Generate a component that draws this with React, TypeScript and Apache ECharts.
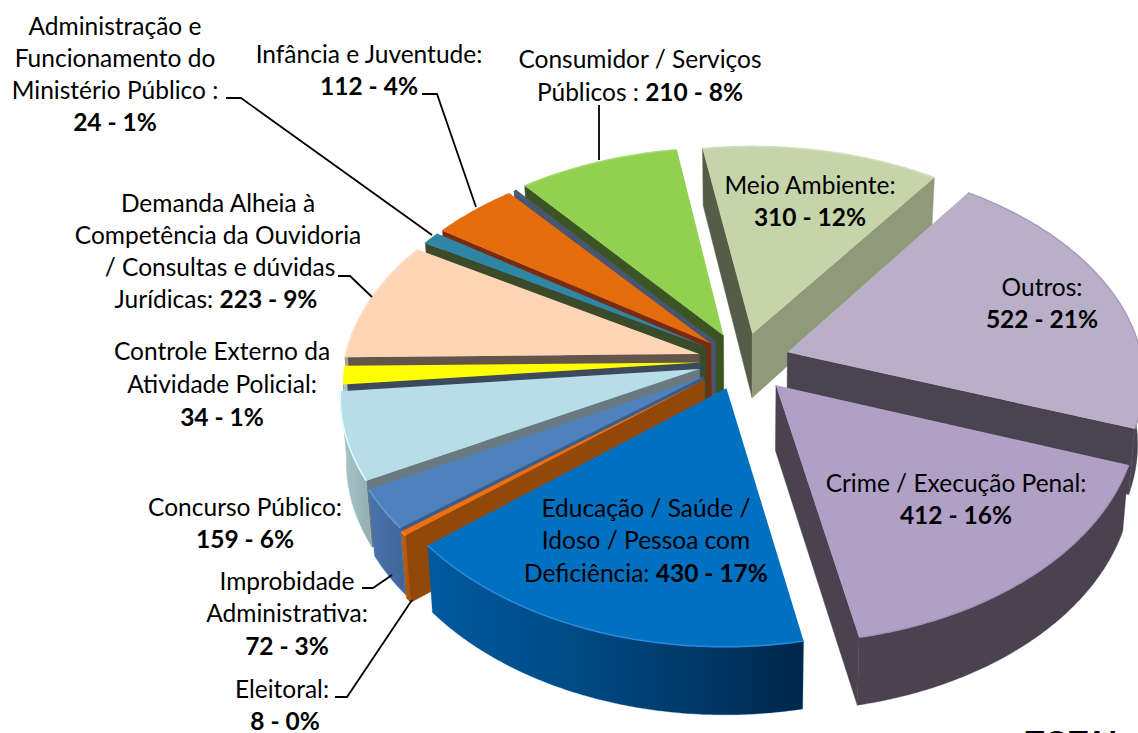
import React, { useEffect, useRef } from "react";
import * as echarts from "echarts";

// Slices, clockwise from the top ("" = thin unlabelled sliver seen beside Infância)
const categories = [
  "Meio Ambiente", "Outros", "Crime / Execução Penal", "Educação / Saúde / Idoso / Pessoa com Deficiência",
  "Eleitoral", "Improbidade Administrativa", "Concurso Público", "Controle Externo da Atividade Policial",
  "Demanda Alheia à Competência da Ouvidoria / Consultas e dúvidas Jurídicas",
  "Administração e Funcionamento do Ministério Público", "Infância e Juventude", "", "Consumidor / Serviços Públicos",
];
const values = [310, 522, 412, 430, 8, 72, 159, 34, 223, 24, 112, 4, 210];
const percents = [12, 21, 16, 17, 0, 3, 6, 1, 9, 1, 4, 0, 8];

const topColors = ["#c5d5a9", "#b9afc9", "#b0a0c6", "#0070c0", "#ee7011", "#4f81bd", "#b7dee8", "#ffff00", "#fcd5b5", "#2e86a4", "#e46c0a", "#4a5570", "#92d050"];
const radialColors = ["#565c48", "#4a4450", "#4a4250", "#00508f", "#924808", "#3a5e8c", "#687a80", "#3d4a5c", "#64554a", "#3b4a28", "#7a2a10", "#4a5570", "#3c5424"];
const rightWallColors = ["#90997a", "#4a4450", "#4a4250", "#00508f", "#924808", "#3a5e8c", "#687a80", "#3d4a5c", "#64554a", "#3b4a28", "#7a2a10", "#4a5570", "#3c5424"];
const arcColors: string[][] = [
  ["#90997a", "#90997a"], ["#4a4450", "#4a4450"], ["#4a4250", "#4a4250"],
  ["#005a9e", "#004d8a", "#003c6c", "#00264a"], ["#c4610c", "#a85208"], ["#4a74ac", "#3f669c"],
  ["#a9c6cc", "#93adb2"], ["#a9c6cc", "#a9c6cc"], ["#c0a288", "#c0a288"], ["#236a82", "#236a82"],
  ["#ad5208", "#ad5208"], ["#4a5570", "#4a5570"], ["#6f9e3c", "#6f9e3c"],
];
const edgeColors = ["#d4e0bc", "#a89cbc", "#a394b6", "#2a8ade", "#f08a30", "#6a9ad0", "#dcffff", "#ffff00", "#ffe0c8", "#2e86a4", "#e46c0a", "#4a5570", "#a4dc68"];

const explodes = [0.13, 0.135, 0.145, 0.13, 0.135, 0.13, 0.125, 0.115, 0.125, 0.12, 0.12, 0.12, 0.13];

const START_ANGLE = -9;
const CX = 742, CY = 361, RX = 355, RY = 218, K = 0.128, K_FRONT_X = 0.11;
const TAU = Math.PI / 180;

const total = values.reduce((a, b) => a + b, 0);
const starts = values.map((_, i) => values.slice(0, i).reduce((a, b) => a + b, 0));
const dataOrder = values
  .map((v, i) => ({ i, depth: Math.cos((START_ANGLE + ((starts[i] + v / 2) / total) * 360) * TAU) }))
  .sort((a, b) => b.depth - a.depth)
  .map((d) => d.i);

function project(X: number, Y: number, bottom: boolean): number[] {
  const p = 1 / (1 + K * Y);
  const px = Y < 0 ? 1 / (1 + K_FRONT_X * Y) : p;
  let sx = CX + RX * X * px;
  let sy = CY - RY * Y * p;
  if (bottom) {
    const h = p < 1 ? 65 * p : 65 + (p - 1) * 18;
    sx = CX + (sx - CX) * 0.985;
    sy += h;
  }
  return [sx, sy];
}

const renderSlice = (_params: any, api: any) => {
  const idx = api.value(2) as number;
  const value = api.value(0) as number;
  const start = api.value(1) as number;
  const a0 = START_ANGLE + (start / total) * 360;
  const a1 = a0 + (value / total) * 360;
  const mid = ((a0 + a1) / 2) * TAU;
  const e = explodes[idx];
  const ox = e * Math.sin(mid), oy = e * Math.cos(mid);
  const pt = (r: number, deg: number, b: boolean) =>
    project(ox + r * Math.sin(deg * TAU), oy + r * Math.cos(deg * TAU), b);
  const steps = Math.max(2, Math.ceil(a1 - a0) * 2);
  const degs: number[] = [];
  for (let s = 0; s <= steps; s++) degs.push(a0 + ((a1 - a0) * s) / steps);

  const children: any[] = [];
  const radial = (deg: number, fill: string) =>
    children.push({
      type: "polygon",
      shape: { points: [pt(0, deg, false), pt(1, deg, false), pt(1, deg, true), pt(0, deg, true)] },
      style: { fill, stroke: fill, lineWidth: 0.5 },
    });
  if (Math.sin(a0 * TAU) < 0) radial(a0, radialColors[idx]);
  if (Math.sin(a1 * TAU) > 0) radial(a1, rightWallColors[idx]);

  const front = degs.filter((d) => Math.cos(d * TAU) < 0.02);
  if (front.length > 1) {
    const stops = arcColors[idx].map((color, i, arr) => ({ offset: i / (arr.length - 1), color }));
    children.push({
      type: "polygon",
      shape: { points: [...front.map((d) => pt(1, d, false)), ...front.slice().reverse().map((d) => pt(1, d, true))] },
      style: {
        fill: new echarts.graphic.LinearGradient(0, 0, 1, 0, stops),
        stroke: arcColors[idx][0], lineWidth: 0.3,
      },
    });
  }
  children.push({
    type: "polygon",
    shape: { points: [pt(0, a0, false), ...degs.map((d) => pt(1, d, false))] },
    style: { fill: topColors[idx] },
  });
  children.push({
    type: "polyline",
    shape: { points: degs.map((d) => pt(1, d, false)) },
    style: { stroke: edgeColors[idx], lineWidth: 1.5, fill: "none" },
  });
  return { type: "group", children };
};

// Label texts
const B = (i: number) => `{b|${values[i]} - ${percents[i]}%}`;
const labelLines: [string, number, number][] = [
  ["Administração e", 115, 25], ["Funcionamento do", 115, 57], ["Ministério Público :", 115, 89], [B(9), 115, 121],
  ["Infância e Juventude:", 369, 53], [B(10), 369, 85],
  ["Consumidor / Serviços", 640, 58], [`Públicos : ${B(12)}`, 640, 91],
  ["Meio Ambiente:", 810, 184], [B(0), 810, 216],
  ["Outros:", 1042, 286], [B(1), 1042, 318],
  ["Crime / Execução Penal:", 956, 482], [B(2), 956, 514],
  ["Educação / Saúde /", 646, 507], ["Idoso / Pessoa com", 646, 539], [`Deficiência: ${B(3)}`, 646, 572],
  ["Demanda Alheia à", 218, 202], ["Competência da Ouvidoria", 218, 234], ["/ Consultas e dúvidas", 220, 266], [`Jurídicas: ${B(8)}`, 216, 298],
  ["Controle Externo da", 222, 350], ["Atividade Policial:", 222, 383], [B(7), 222, 416],
  ["Concurso Público:", 245, 506], [B(6), 245, 538],
  ["Improbidade", 287, 580], ["Administrativa:", 287, 612], [B(5), 287, 645],
  ["Eleitoral:", 282, 688], [B(4), 285, 720],
];
const leaders: number[][][] = [
  [[226, 98], [241, 98], [432, 235]],
  [[422, 94], [437, 94], [476, 207]],
  [[599, 105], [599, 160]],
  [[338, 276], [350, 276], [372, 297]],
  [[362, 588], [373, 588], [392, 575]],
  [[335, 697], [347, 697], [412, 600]],
];
const FONT = "Lato, Carlito, sans-serif";
const FONT_SIZE = 24.5;

export default function App() {
  const ref = useRef<HTMLDivElement>(null);
  useEffect(() => {
    document.body.style.margin = "0";
    const chart = echarts.init(ref.current!, undefined, { renderer: "svg" });
    chart.setOption({
      animation: false,
      backgroundColor: "#ffffff",
      series: [
        {
          type: "custom",
          coordinateSystem: "none",
          silent: true,
          renderItem: renderSlice,
          data: dataOrder.map((i) => ({ name: categories[i], value: [values[i], starts[i], i] })),
          z: 1,
        },
      ],
      graphic: {
        elements: [
          ...leaders.map((points) => ({
            type: "polyline",
            z: 5,
            shape: { points },
            style: { stroke: "#000", lineWidth: 1.8, fill: "none" },
          })),
          ...labelLines.map(([text, x, y]) => ({
            type: "text",
            z: 10,
            x,
            y,
            style: {
              text,
              fill: "#000",
              font: `${FONT_SIZE}px ${FONT}`,
              align: "center",
              verticalAlign: "middle",
              rich: {
                b: { font: `bold ${FONT_SIZE}px ${FONT}`, fill: "#000" },
              },
            },
          })),
          {
            type: "text",
            z: 10,
            x: 1075,
            y: 726,
            style: {
              text: "TOTAL",
              fill: "#000",
              font: `bold 32px ${FONT}`,
              align: "center",
              verticalAlign: "top",
            },
          },
        ],
      },
    });
    return () => chart.dispose();
  }, []);
  return <div ref={ref} style={{ position: "absolute", left: 0, top: 0, width: 1138, height: 733, overflow: "hidden" }} />;
}
